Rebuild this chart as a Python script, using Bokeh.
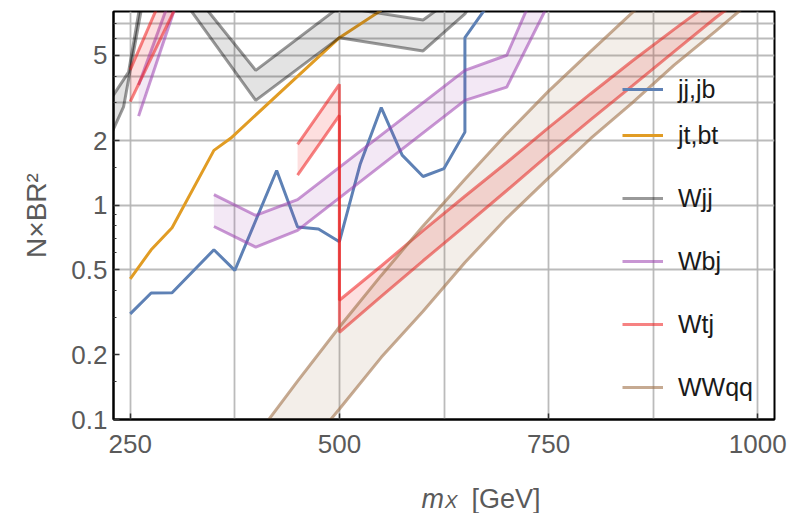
from bokeh.plotting import figure
from bokeh.layouts import column
from bokeh.models import Range1d, FixedTicker, Legend, LegendItem
from bokeh.core.properties import value
from bokeh.embed import file_html
from bokeh.resources import INLINE

# ---------------- data ----------------
# jj,jb
jj_mass = [250, 275, 300, 350, 375, 425, 450, 475, 500, 525, 550, 575, 600, 625, 650, 650, 675]
jj_val = [0.311, 0.389, 0.39, 0.619, 0.496, 1.45, 0.79, 0.773, 0.675, 1.56, 2.85, 1.71, 1.36, 1.48, 2.19, 6.04, 8.3]

# jt,bt
jt_mass = [250, 275, 300, 350, 370, 500, 550]
jt_val = [0.453, 0.619, 0.784, 1.80, 2.05, 6.04, 8.1]

# Wjj band
wjj_lo_mass = [225, 242, 275, 400, 500, 600, 650, 675]
wjj_lo_val = [2.05, 2.87, 14.6, 3.08, 6.04, 5.24, 7.8, 11.0]
wjj_hi_mass = [225, 248, 275, 400, 500, 600, 625, 650]
wjj_hi_val = [3.05, 4.17, 17.2, 4.25, 8.4, 7.3, 8.6, 11.0]

# Wbj band (two pieces)
wbj_a_mass = [260, 325]
wbj_a_hi = [3.63, 18.0]
wbj_a_lo = [2.6, 14.8]
wbj_b_mass = [350, 400, 450, 650, 700, 750]
wbj_b_hi = [1.12, 0.895, 1.06, 4.25, 5.0, 14.0]
wbj_b_lo = [0.795, 0.637, 0.762, 3.08, 3.55, 8.7]

# Wtj band (three pieces)
wtj_a_mass = [250, 325]
wtj_a_hi = [4.27, 20.4]
wtj_a_lo = [3.04, 12.3]
wtj_b_mass = [450, 500]
wtj_b_hi = [1.92, 3.66]
wtj_b_lo = [1.38, 2.62]
wtj_c_mass = [500, 550, 600, 650, 700, 750, 800, 850, 900, 950, 1000]
wtj_c_hi = [0.36, 0.52, 0.76, 1.1, 1.58, 2.3, 3.3, 4.7, 6.6, 9.2, 12.8]
wtj_c_lo = [0.255, 0.375, 0.55, 0.8, 1.17, 1.72, 2.5, 3.6, 5.2, 7.5, 10.5]

# WWqq band
ww_mass = [400, 450, 500, 550, 600, 650, 700, 750, 800, 850, 900, 950, 1000, 1050]
ww_hi = [0.083, 0.151, 0.27, 0.47, 0.80, 1.32, 2.15, 3.4, 5.2, 7.9, 11.7, 17.0, 24.0, 33.0]
ww_lo = [0.036, 0.065, 0.112, 0.195, 0.32, 0.54, 0.87, 1.34, 2.04, 3.0, 4.5, 6.5, 9.5, 13.5]

# ticks / grid
x_ticks = [250, 500, 750, 1000]
x_grid = [250, 375, 500, 625, 750, 875, 1000]
y_ticks = [0.1, 0.2, 0.5, 1, 2, 5]
y_minor = [0.15, 0.3, 0.4, 0.6, 0.7, 0.8, 0.9, 1.5, 3, 4, 6, 7]
y_grid = [0.5, 1, 2, 3, 4, 5, 6, 7]
y_labels = {0.1: "0.1", 0.2: "0.2", 0.5: "0.5", 1: "1", 2: "2", 5: "5"}

# x-axis title pieces: m (italic), X (italic subscript), [GeV]
xlab_text = ["m", "X", "[GeV]"]

FONT = "Liberation Sans"
TXT = "#5a5a5a"

# ---------------- main figure ----------------
p = figure(width=794, height=470, x_range=Range1d(230, 1020), y_range=Range1d(0.1, 8.0),
           y_axis_type="log", output_backend="svg", toolbar_location=None,
           min_border_left=113, min_border_right=20, min_border_top=11, min_border_bottom=51)
p.background_fill_color = "white"
p.border_fill_color = "white"
p.outline_line_color = "black"
p.outline_line_width = 2

p.xaxis.ticker = FixedTicker(ticks=x_ticks, minor_ticks=[])
p.yaxis.ticker = FixedTicker(ticks=y_ticks, minor_ticks=y_minor)
p.xgrid.ticker = FixedTicker(ticks=x_grid, minor_ticks=[])
p.ygrid.ticker = FixedTicker(ticks=y_grid, minor_ticks=[])
for g in (p.xgrid[0], p.ygrid[0]):
    g.grid_line_color = "#b4b4b4"
    g.grid_line_width = 1.8
    g.grid_line_alpha = 0.9

for ax in (p.xaxis[0], p.yaxis[0]):
    ax.axis_line_color = "black"
    ax.axis_line_width = 2
    ax.major_tick_in = 6
    ax.major_tick_out = 0
    ax.minor_tick_in = 3
    ax.minor_tick_out = 0
    ax.major_tick_line_color = "#333333"
    ax.minor_tick_line_color = "#333333"
    ax.major_tick_line_width = 1.5
    ax.major_label_text_font = FONT
    ax.major_label_text_font_size = "26px"
    ax.major_label_text_color = TXT
    ax.axis_label_text_font = FONT
    ax.axis_label_text_color = TXT
    ax.axis_label_text_font_style = "normal"

p.xaxis.major_label_standoff = 15
p.yaxis.major_label_standoff = 6
p.yaxis.major_label_overrides = y_labels
p.yaxis.axis_label = "N×BR²"
p.yaxis.axis_label_text_font_size = "28px"
p.yaxis.axis_label_standoff = 16

# ---------------- glyphs ----------------
r_jj = p.line(jj_mass, jj_val, line_color="#5E81B5", line_width=3)
r_jt = p.line(jt_mass, jt_val, line_color="#E19C24", line_width=3)


def band(masses_hi, hi, masses_lo, lo, color, fill_alpha):
    xs = list(masses_hi) + list(masses_lo)[::-1]
    ys = list(hi) + list(lo)[::-1]
    p.patch(xs, ys, fill_color=color, fill_alpha=fill_alpha, line_alpha=0)


GRAY = "black"
PURP = "#9B3FAF"
RED = "#EE1C1C"
TAN = "#A0724A"

# Wjj
band(wjj_hi_mass, wjj_hi_val, wjj_lo_mass, wjj_lo_val, GRAY, 0.11)
r_wjj = p.line(wjj_hi_mass, wjj_hi_val, line_color=GRAY, line_alpha=0.4, line_width=3)
p.line(wjj_lo_mass, wjj_lo_val, line_color=GRAY, line_alpha=0.4, line_width=3)

# Wbj
band(wbj_a_mass, wbj_a_hi, wbj_a_mass, wbj_a_lo, PURP, 0.12)
band(wbj_b_mass, wbj_b_hi, wbj_b_mass, wbj_b_lo, PURP, 0.12)
r_wbj = p.line(wbj_a_mass, wbj_a_hi, line_color=PURP, line_alpha=0.55, line_width=3)
p.line(wbj_a_mass, wbj_a_lo, line_color=PURP, line_alpha=0.55, line_width=3)
p.line(wbj_b_mass, wbj_b_hi, line_color=PURP, line_alpha=0.55, line_width=3)
p.line(wbj_b_mass, wbj_b_lo, line_color=PURP, line_alpha=0.55, line_width=3)

# Wtj
band(wtj_a_mass, wtj_a_hi, wtj_a_mass, wtj_a_lo, RED, 0.14)
band(wtj_b_mass, wtj_b_hi, wtj_b_mass, wtj_b_lo, RED, 0.14)
band(wtj_c_mass, wtj_c_hi, wtj_c_mass, wtj_c_lo, RED, 0.14)
r_wtj = p.line(wtj_a_mass, wtj_a_hi, line_color=RED, line_alpha=0.55, line_width=3)
p.line(wtj_a_mass, wtj_a_lo, line_color=RED, line_alpha=0.55, line_width=3)
p.line(wtj_b_mass + wtj_c_mass, wtj_b_hi + wtj_c_hi, line_color=RED, line_alpha=0.55, line_width=3)
p.line(wtj_b_mass + wtj_c_mass, wtj_b_lo + wtj_c_lo, line_color=RED, line_alpha=0.55, line_width=3)

# WWqq
band(ww_mass, ww_hi, ww_mass, ww_lo, TAN, 0.12)
r_ww = p.line(ww_mass, ww_hi, line_color=TAN, line_alpha=0.6, line_width=3)
p.line(ww_mass, ww_lo, line_color=TAN, line_alpha=0.6, line_width=3)

# ---------------- legends ----------------
def make_legend(items, loc, spacing):
    leg = Legend(items=items, location=loc, spacing=spacing, padding=0, margin=0,
                 glyph_width=41, glyph_height=30, label_height=30, label_standoff=15,
                 label_text_font=FONT, label_text_font_size="25px", label_text_color="#1a1a1a",
                 label_text_baseline="middle",
                 background_fill_alpha=0, border_line_alpha=0)
    p.add_layout(leg)


make_legend([LegendItem(label="jj,jb", renderers=[r_jj]),
             LegendItem(label="jt,bt", renderers=[r_jt])], (509, 269), 16)
make_legend([LegendItem(label="Wjj", renderers=[r_wjj]),
             LegendItem(label="Wbj", renderers=[r_wbj]),
             LegendItem(label="Wtj", renderers=[r_wtj]),
             LegendItem(label="WWqq", renderers=[r_ww])], (509, 17), 33)

# ---------------- x-axis title strip (pixel coordinates) ----------------
q = figure(width=794, height=43, x_range=Range1d(0, 794), y_range=Range1d(0, 43),
           output_backend="svg", toolbar_location=None, min_border=0,
           x_axis_location=None, y_axis_location=None)
q.grid.visible = False
q.outline_line_color = None
q.background_fill_color = "white"
q.border_fill_color = "white"
q.text(x=[370], y=[15], text=[xlab_text[0]], text_font=value(FONT), text_font_style="italic",
       text_font_size="27px", text_color=TXT, text_baseline="alphabetic", text_align="left")
q.text(x=[398], y=[12], text=[xlab_text[1]], text_font=value(FONT), text_font_style="italic",
       text_font_size="19px", text_color=TXT, text_baseline="alphabetic", text_align="left")
q.text(x=[430], y=[15], text=[xlab_text[2]], text_font=value(FONT), text_font_style="normal",
       text_font_size="27px", text_color=TXT, text_baseline="alphabetic", text_align="left")

layout = column(p, q, spacing=0)
open("out.html", "w").write(file_html(layout, INLINE))
